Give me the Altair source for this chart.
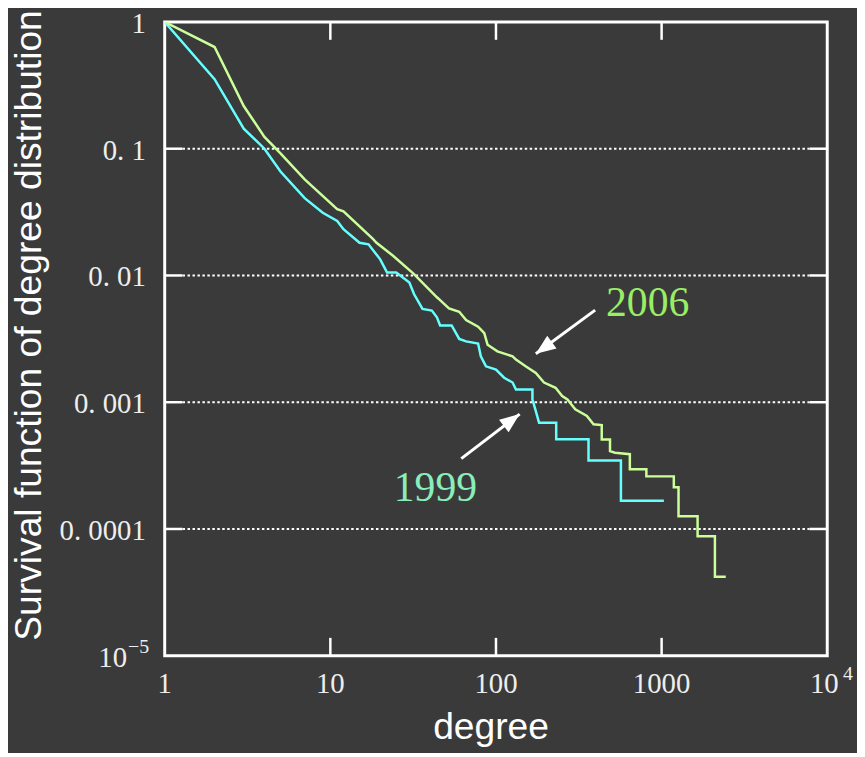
import altair as alt
import pandas as pd

# ---- data (degree, survival function) ----
deg_2006 = [1, 2, 3, 4, 5, 7, 11, 12, 18, 19, 24, 32, 44, 46, 52, 60, 66, 78, 85, 89,
            102, 126, 132, 151, 174, 195, 229, 251, 270, 301, 354, 388, 435, 435, 488, 488,
            523, 643, 643, 809, 809, 1185, 1185, 1265, 1265, 1649, 1649, 2098, 2098, 2440]
surv_2006 = [1.0, 0.634, 0.217, 0.124, 0.092, 0.0573, 0.0334, 0.032, 0.0195, 0.0181,
             0.01425, 0.01025, 0.00673, 0.00638, 0.0055, 0.00517, 0.00445, 0.00394, 0.0035, 0.00284,
             0.00252, 0.0023, 0.00217, 0.00192, 0.0017, 0.00143, 0.0013, 0.00112, 0.00105, 0.00088,
             0.00078, 0.00067, 0.00066, 0.000508, 0.000508, 0.000411, 0.0004, 0.000389, 0.000296, 0.000296,
             0.00026, 0.00026, 0.000213, 0.000213, 0.000126, 0.000126, 0.0000875, 0.0000875, 0.000042, 0.000042]

deg_1999 = [1, 2, 3, 4, 5, 7, 9, 11, 12, 15, 17, 20, 22, 25, 30, 32, 36, 41, 44, 46,
            54, 60, 66, 78, 81, 87, 100, 112, 126, 132, 166, 166, 174, 182, 231, 231,
            362, 362, 568, 568, 1032]
surv_1999 = [1.0, 0.354, 0.144, 0.1, 0.066, 0.0407, 0.0312, 0.0269, 0.0232, 0.0181,
             0.0176, 0.0134, 0.01055, 0.01055, 0.0088, 0.00714, 0.00545, 0.00529, 0.00468, 0.00403,
             0.00403, 0.00316, 0.00302, 0.0029, 0.0023, 0.00192, 0.00181, 0.00156, 0.00143, 0.00126,
             0.00126, 0.00105, 0.00085, 0.00069, 0.00069, 0.00051, 0.00051, 0.000347, 0.000347, 0.000167,
             0.000167]

years = ["1999", "2006"]
line_colors = ["#66ffff", "#ccff99"]

x_ticks = [1, 10, 100, 1000, 10000]
x_labels = ["1", "10", "100", "1000"]
y_ticks = [1, 0.1, 0.01, 0.001, 0.0001, 0.00001]
y_labels = ["1", "0. 1", "0. 01", "0. 001", "0. 0001"]

ann_text = ["2006", "1999"]
ann_x = [824, 43.1]
ann_y = [0.00604, 0.000209]
ann_color = ["#99ee66", "#88eebb"]

arrow_x_tail = [397, 61.7]
arrow_y_tail = [0.00533, 0.000359]
arrow_x_tip = [174, 139]
arrow_y_tip = [0.00241, 0.000806]
arrow_angle = [234, 53]

x_title = "degree"
y_title = "Survival function of degree distribution"

# ---- build ----
W, H = 668, 639
BG = "#3a3a3a"
SERIF = "Liberation Serif"
SANS = "Liberation Sans"
LBL = "#eeeeee"

xs = alt.Scale(type="log", domain=[1, 10000], nice=False)
ys = alt.Scale(type="log", domain=[0.00001, 1], nice=False)

rows = []
for yr, dd, ss in [("1999", deg_1999, surv_1999), ("2006", deg_2006, surv_2006)]:
    for i, (d, s) in enumerate(zip(dd, ss)):
        rows.append({"x": d, "y": s, "year": yr, "i": i})
df = pd.DataFrame(rows)

X = lambda: alt.X("x:Q", scale=xs, axis=None)
Y = lambda: alt.Y("y:Q", scale=ys, axis=None)

grid = alt.Chart(pd.DataFrame({"y": y_ticks[1:5]})).mark_rule(
    color="white", strokeWidth=2, strokeDash=[2.5, 2.5]
).encode(y=Y(), x=alt.value(18), x2=alt.value(W - 18))

ytick_l = alt.Chart(pd.DataFrame({"y": y_ticks[1:5]})).mark_rule(
    color="white", strokeWidth=2.5
).encode(y=Y(), x=alt.value(0), x2=alt.value(18))
ytick_r = alt.Chart(pd.DataFrame({"y": y_ticks[1:5]})).mark_rule(
    color="white", strokeWidth=2.5
).encode(y=Y(), x=alt.value(W - 18), x2=alt.value(W))

xtick_b = alt.Chart(pd.DataFrame({"x": x_ticks[1:4]})).mark_rule(
    color="white", strokeWidth=2.5
).encode(x=X(), y=alt.value(H - 18), y2=alt.value(H))
xtick_t = alt.Chart(pd.DataFrame({"x": x_ticks[1:4]})).mark_rule(
    color="white", strokeWidth=2.5
).encode(x=X(), y=alt.value(0), y2=alt.value(18))

lines = alt.Chart(df).mark_line(strokeWidth=2.5, clip=True).encode(
    x=X(), y=Y(),
    color=alt.Color("year:N", scale=alt.Scale(domain=years, range=line_colors), legend=None),
    order=alt.Order("i:Q"),
)

xlab = alt.Chart(pd.DataFrame({"x": x_ticks[:4], "t": x_labels})).mark_text(
    font=SERIF, fontSize=29, color=LBL, align="center", baseline="middle"
).encode(x=X(), y=alt.value(H + 29), text="t:N")
xpow = alt.Chart(pd.DataFrame({"x": [x_ticks[4]], "t": ["10"]})).mark_text(
    font=SERIF, fontSize=29, color=LBL, align="center", baseline="middle", dx=-3
).encode(x=X(), y=alt.value(H + 29), text="t:N")
xsup = alt.Chart(pd.DataFrame({"x": [x_ticks[4]], "t": ["4"]})).mark_text(
    font=SERIF, fontSize=20, color=LBL, align="center", baseline="middle", dx=21
).encode(x=X(), y=alt.value(H + 18), text="t:N")

ylab = alt.Chart(pd.DataFrame({"y": y_ticks[:5], "t": y_labels})).mark_text(
    font=SERIF, fontSize=29, color=LBL, align="right", baseline="middle", dy=2
).encode(y=Y(), x=alt.value(-19), text="t:N")
ypow = alt.Chart(pd.DataFrame({"y": [y_ticks[5]], "t": ["10"]})).mark_text(
    font=SERIF, fontSize=29, color=LBL, align="right", baseline="middle", dy=2
).encode(y=Y(), x=alt.value(-38), text="t:N")
ysup = alt.Chart(pd.DataFrame({"y": [y_ticks[5]], "t": ["\u22125"]})).mark_text(
    font=SERIF, fontSize=20, color=LBL, align="left", baseline="middle", dy=-9
).encode(y=Y(), x=alt.value(-37), text="t:N")

xt = alt.Chart(pd.DataFrame({"t": [x_title]})).mark_text(
    font=SANS, fontSize=37.5, color="white", align="center", baseline="alphabetic"
).encode(x=alt.value(329), y=alt.value(723), text="t:N")
yt = alt.Chart(pd.DataFrame({"t": [y_title]})).mark_text(
    font=SANS, fontSize=37.5, color="white", align="center", baseline="middle", angle=270
).encode(x=alt.value(-136), y=alt.value(306), text="t:N")

ann = alt.Chart(pd.DataFrame({"x": ann_x, "y": ann_y, "t": ann_text, "c": ann_color})).mark_text(
    font=SERIF, fontSize=42, align="center", baseline="middle"
).encode(x=X(), y=Y(), text="t:N", color=alt.Color("c:N", scale=None))

arr_df = pd.DataFrame({"x": arrow_x_tail, "y": arrow_y_tail, "x2": arrow_x_tip,
                       "y2": arrow_y_tip, "a": arrow_angle})
arr_line = alt.Chart(arr_df).mark_rule(color="white", strokeWidth=3).encode(
    x=X(), y=Y(), x2="x2:Q", y2="y2:Q")
arr_head = alt.Chart(arr_df).mark_point(
    shape="M0,0 L0.8,2 L-0.8,2 Z", filled=True, size=400, color="white", opacity=1, strokeWidth=0
).encode(x=alt.X("x2:Q", scale=xs, axis=None), y=alt.Y("y2:Q", scale=ys, axis=None),
         angle=alt.Angle("a:Q", scale=None))

chart = alt.layer(
    grid, ytick_l, ytick_r, xtick_b, xtick_t, lines,
    xlab, xpow, xsup, ylab, ypow, ysup, xt, yt, ann, arr_line, arr_head
).properties(
    width=W, height=H,
    padding={"left": 158, "top": 11, "right": 30, "bottom": 95},
    autosize=alt.AutoSizeParams(type="none"),
).configure(background=BG).configure_view(stroke="white", strokeWidth=3)

chart.save("out.html", embed_options={"renderer": "svg", "actions": False})
